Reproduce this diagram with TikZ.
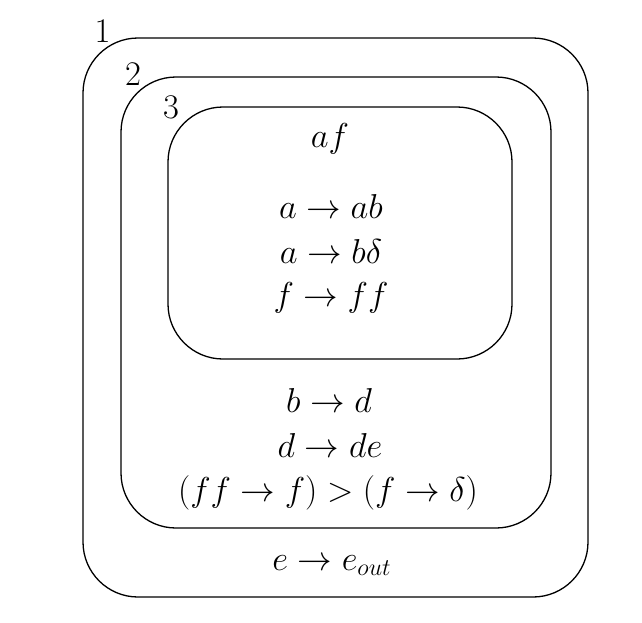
\documentclass[tikz,border=0pt]{standalone}
\usepackage{amsmath, amssymb}

\begin{document}
\begin{tikzpicture}[x = 0.5pt, y = -0.5pt,
	membrane/.style = {draw, line width = 0.65pt, rounded corners = 27.5pt},
	rule/.style = {font = \fontsize{17.5}{21}\selectfont, anchor = base, inner sep = 0pt}]
	\useasboundingbox (0,0) rectangle (642,622);
	\draw[membrane] (83,38) rectangle (588,597);
	\draw[membrane] (121,77) rectangle (551,528);
	\draw[membrane] (168,107) rectangle (512,359);
	\node[rule] (l1) at (102.5,42) {$1$};
	\node[rule] (l2) at (133,85) {$2$};
	\node[rule] (l3) at (171,118) {$3$};
	\node[rule] (af) at (330,147) {$af$};
	\node[rule] (r1) at (331,218) {$a \to ab$};
	\node[rule] (r2) at (331,263) {$a \to b\delta$};
	\node[rule] (r3) at (331,306) {$f \to ff$};
	\node[rule] (r4) at (329,412) {$b \to d$};
	\node[rule] (r5) at (330,457) {$d \to de$};
	\node[rule] (r6) at (328,501) {$(ff \to f) > (f \to \delta)$};
	\node[rule] (r7) at (332,570) {$e \to e_{out}$};
\end{tikzpicture}
\end{document}
